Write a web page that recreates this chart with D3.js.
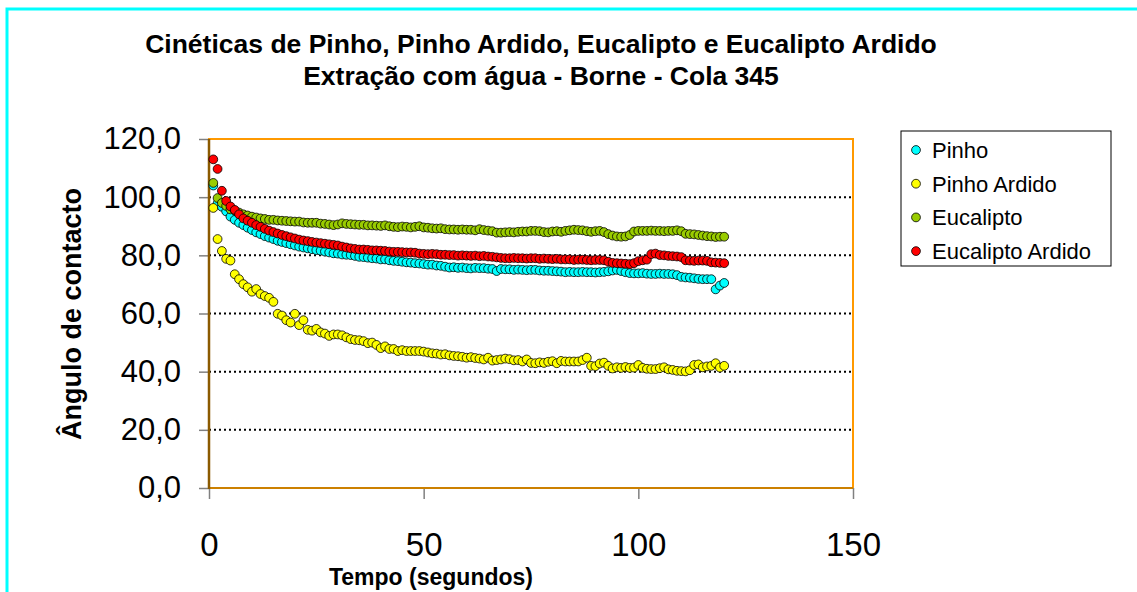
<!DOCTYPE html>
<html><head><meta charset="utf-8">
<script src="https://cdn.jsdelivr.net/npm/d3@7"></script>
<style>body{margin:0;background:#fff}svg{display:block;font-family:"Liberation Sans",Arial,sans-serif}</style>
</head><body><svg id="c" width="1137" height="592"></svg>
<script>
const titleLines = ["Cinéticas de Pinho, Pinho Ardido, Eucalipto e Eucalipto Ardido","Extração com água - Borne - Cola 345"];
const xTitle = "Tempo (segundos)";
const yTitle = "Ângulo de contacto";
const xTicks = [0,50,100,150];
const yTicks = [0,20,40,60,80,100,120];
const seriesNames = ["Pinho","Pinho Ardido","Eucalipto","Eucalipto Ardido"];
const seriesColors = ["#00FFFF","#FFFF00","#99CC00","#FF0000"];
const tempo = d3.range(1,121);
const pinho = [104.0,97.9,96.7,95.1,93.3,92.2,91.2,90.4,89.5,88.7,
87.9,87.3,86.6,86.1,85.6,85.0,84.6,84.2,83.8,83.4,
83.0,82.7,82.4,82.1,81.8,81.6,81.3,81.0,80.7,80.6,
80.3,80.2,80.1,79.8,79.5,79.4,79.2,79.0,78.9,78.6,
78.6,78.3,78.1,78.0,77.8,77.6,77.5,77.3,77.2,77.0,
76.8,76.8,76.5,76.4,76.1,75.8,75.9,75.7,75.8,75.6,
75.5,75.7,75.6,75.6,75.4,75.3,74.6,75.3,75.2,75.2,
75.0,75.1,75.0,74.9,75.0,75.0,74.8,74.7,74.7,74.6,
74.5,74.4,74.2,74.3,74.2,74.2,74.3,74.2,74.2,74.1,
74.2,74.3,74.5,74.8,75.0,74.6,74.2,73.9,73.8,73.8,
73.9,73.7,73.6,73.6,73.7,73.6,73.6,73.5,73.2,72.6,
72.4,72.3,72.1,71.9,71.8,71.8,71.8,68.3,69.6,70.5];
const pinhoArdido = [96.3,85.6,81.5,78.8,78.2,73.5,71.8,70.1,69.0,67.5,
68.4,66.7,66.0,65.4,64.0,59.9,59.3,57.7,56.9,59.9,
56.0,57.7,54.4,54.1,54.7,53.5,53.1,52.3,52.8,52.8,
52.5,51.8,51.2,50.9,50.8,50.5,49.8,50.0,49.2,48.1,
48.7,47.8,47.8,47.1,47.4,47.1,47.1,47.1,47.1,46.9,
46.6,46.3,46.2,45.9,46.0,45.6,45.4,45.3,45.1,44.8,
45.0,44.7,44.5,44.2,44.8,43.8,44.0,44.2,44.5,44.3,
43.9,44.0,43.5,44.2,43.0,42.9,43.2,43.0,43.4,43.6,
42.9,43.7,43.5,43.5,43.5,43.5,44.0,44.8,42.0,41.9,
42.8,43.1,42.0,41.1,41.5,41.3,41.6,41.3,41.4,42.3,
41.3,41.0,40.9,40.9,41.2,41.5,40.8,40.6,40.3,40.2,
40.1,40.5,42.3,42.5,41.5,41.8,42.0,42.9,41.4,42.0];
const eucalipto = [104.9,99.7,98.0,97.0,95.8,95.4,94.7,94.1,93.7,93.3,
93.0,92.7,92.5,92.2,92.2,92.0,91.9,91.8,91.7,91.6,
91.6,91.3,91.2,91.2,91.2,90.9,90.8,90.6,90.4,90.6,
91.0,90.8,90.7,90.6,90.5,90.5,90.3,90.3,90.2,90.1,
90.3,90.0,89.8,89.7,89.9,89.8,89.6,89.8,90.0,89.6,
89.5,89.3,89.2,89.3,89.0,88.9,88.9,88.8,88.9,88.8,
88.8,88.6,89.0,88.7,88.5,88.3,87.8,87.8,87.9,88.0,
87.9,88.1,88.2,88.2,88.4,88.4,88.3,88.0,87.9,88.2,
88.3,88.1,88.4,88.6,88.8,88.7,88.6,88.3,88.1,88.3,
88.4,88.0,87.3,86.8,86.5,86.4,86.5,87.0,88.2,88.4,
88.4,88.4,88.5,88.4,88.4,88.3,88.4,88.4,88.6,88.3,
87.4,87.3,87.2,87.0,86.8,86.6,86.5,86.3,86.4,86.4];
const eucaliptoArdido = [113.0,109.7,102.2,98.7,96.8,95.6,94.1,92.7,91.9,91.2,
90.4,89.8,89.1,88.5,88.0,87.5,87.0,86.6,86.2,85.8,
85.4,85.1,84.9,84.6,84.4,84.2,84.0,83.8,83.6,83.4,
83.0,82.7,82.4,82.2,82.0,82.0,81.9,81.7,81.7,81.6,
81.5,81.3,81.2,81.2,81.1,81.0,81.0,80.9,80.6,80.5,
80.4,80.5,80.4,80.2,80.2,80.1,80.1,79.9,80.0,79.9,
79.8,79.9,79.7,79.8,79.6,79.5,79.3,79.1,79.0,79.0,
79.1,79.0,79.0,78.9,79.0,79.0,78.8,78.9,78.8,78.7,
78.8,78.6,78.6,78.6,78.4,78.5,78.5,78.4,78.3,78.4,
78.4,78.3,77.8,77.4,77.3,77.2,77.1,77.0,77.3,78.0,
78.3,78.5,80.4,80.6,80.1,80.0,79.8,79.7,79.6,79.4,
78.3,78.2,78.1,78.2,78.2,78.1,77.6,77.5,77.4,77.3];
const seriesValues = [pinho,pinhoArdido,eucalipto,eucaliptoArdido];

const svg = d3.select("#c");
const F = '"Liberation Sans",Arial,sans-serif';
// outer frame
svg.append("rect").attr("x",7).attr("y",9).attr("width",1140).attr("height",600)
  .attr("fill","#fff").attr("stroke","#00FFFF").attr("stroke-width",3);

const L=209,R=853,T=139,B=488;
const x = d3.scaleLinear().domain([0,150]).range([L,R]);
const y = d3.scaleLinear().domain([0,120]).range([B,T]);

// grid
svg.append("g").selectAll("line").data(yTicks.filter(v=>v>0&&v<120)).join("line")
  .attr("x1",L).attr("x2",R).attr("y1",d=>y(d)).attr("y2",d=>y(d))
  .attr("stroke","#000").attr("stroke-width",2).attr("stroke-dasharray","2,3");
// plot border
svg.append("rect").attr("x",L).attr("y",T).attr("width",R-L).attr("height",B-T)
  .attr("fill","none").attr("stroke","#FF9900").attr("stroke-width",2);

// axes
const yAxis = svg.append("g").attr("transform",`translate(${L},0)`)
  .call(d3.axisLeft(y).tickValues(yTicks).tickSize(10).tickPadding(18)
    .tickFormat(d=>d3.format(".1f")(d).replace(".",",")));
const xAxis = svg.append("g").attr("transform",`translate(0,${B})`)
  .call(d3.axisBottom(x).tickValues(xTicks).tickSize(11).tickPadding(34).tickFormat(d3.format("d")));
[yAxis,xAxis].forEach(g=>{
  g.select(".domain").remove();
  g.selectAll(".tick line").attr("stroke","#808080").attr("stroke-width",1.5);
  g.selectAll("text").attr("fill","#000").style("font-family",F).style("font-size","31px");
});
xAxis.selectAll("text").style("font-size","33px");
svg.append("line").attr("x1",L).attr("x2",R).attr("y1",B).attr("y2",B).attr("stroke","#CC8000").attr("stroke-width",2);
svg.append("line").attr("x1",L).attr("x2",L).attr("y1",T).attr("y2",B+1).attr("stroke","#8B5A00").attr("stroke-width",2.5);

// series
seriesValues.forEach((vals,i)=>{
  svg.append("g").selectAll("circle").data(tempo.map((t,k)=>[t,vals[k]])).join("circle")
    .attr("cx",d=>x(d[0])).attr("cy",d=>y(d[1])).attr("r",4.4)
    .attr("fill",seriesColors[i]).attr("stroke","#000").attr("stroke-width",0.8);
});

// titles
svg.append("text").attr("x",541).attr("y",53).attr("text-anchor","middle")
  .style("font-family",F).style("font-size","26.5px").style("font-weight","bold")
  .selectAll("tspan").data(titleLines).join("tspan").attr("x",541).attr("dy",(d,i)=>i?32:0).text(d=>d);
svg.append("text").attr("x",431).attr("y",585).attr("text-anchor","middle")
  .style("font-family",F).style("font-size","23px").style("font-weight","bold").text(xTitle);
svg.append("text").attr("transform","translate(81,314) rotate(-90)").attr("text-anchor","middle")
  .style("font-family",F).style("font-size","27px").style("font-weight","bold").text(yTitle);

// legend
const lg = svg.append("g");
lg.append("rect").attr("x",901).attr("y",131).attr("width",210).attr("height",135)
  .attr("fill","#fff").attr("stroke","#000").attr("stroke-width",1);
seriesNames.forEach((n,i)=>{
  const cy = 150 + i*33.7;
  lg.append("circle").attr("cx",916).attr("cy",cy).attr("r",4.4).attr("fill",seriesColors[i]).attr("stroke","#000").attr("stroke-width",0.8);
  lg.append("text").attr("x",932).attr("y",cy+8).style("font-family",F).style("font-size","22px").text(n);
});
</script></body></html>
